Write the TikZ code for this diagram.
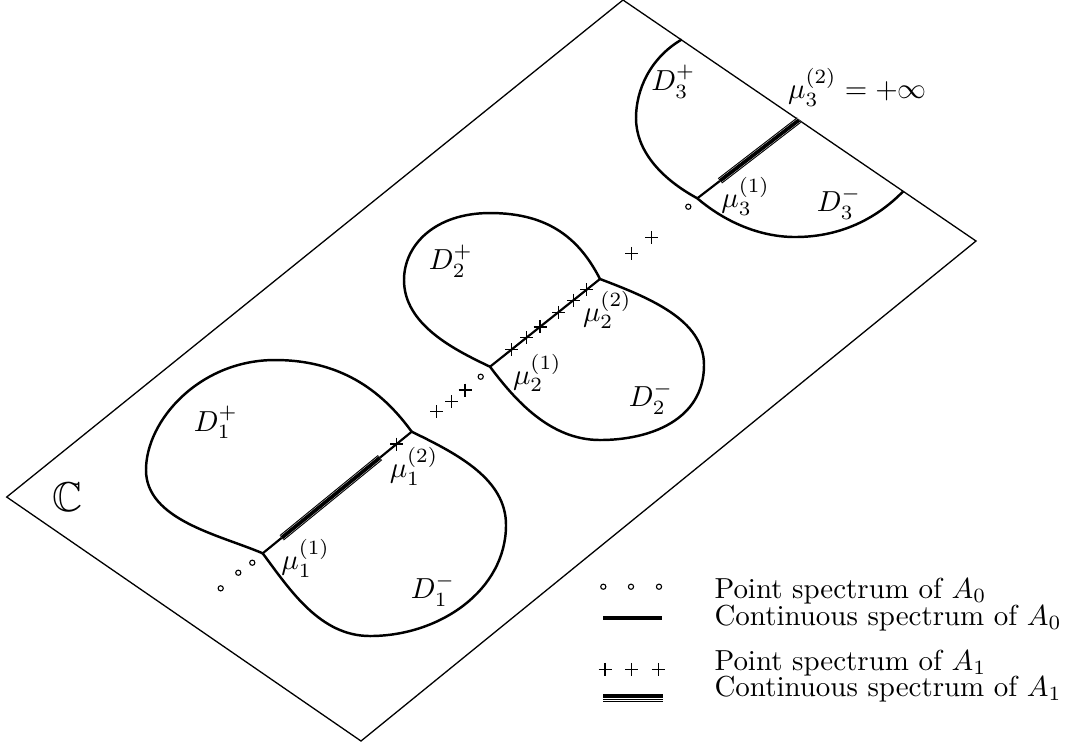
\documentclass[tikz,border=0pt]{standalone}
\usepackage{fontspec}
\usepackage{amssymb}
\begin{document}
\begin{tikzpicture}[x=0.3455pt,y=-0.3455pt,
  border/.style={line width=0.45pt},
  lobe/.style={line width=0.85pt, line join=round},
  contline/.style={line width=0.75pt},
  tripleline/.style={line width=2.3pt,
    postaction={draw,white,line width=1.55pt,
      postaction={draw,black,line width=1.3pt}}},
  legtriple/.style={line width=2.8pt,
    postaction={draw,white,line width=1.9pt,
      postaction={draw,black,line width=1.35pt,
        postaction={draw,white,line width=0.3pt}}}},
  plusmark/.style={line width=0.48pt},
  ptcirc/.style={line width=0.38pt},
  lbl/.style={inner sep=0pt, font=\normalsize},
  legtext/.style={inner sep=0pt, anchor=base west}]
\useasboundingbox (0,0) rectangle (1066,744);
\newcommand\mkplus[1]{\draw[plusmark] (#1) +(-6.5,0) -- +(6.5,0) (#1) +(0,-6.5) -- +(0,6.5);}
\newcommand\mkcirc[1]{\draw[ptcirc] (#1) circle[radius=2.6];}
% frame (parallelogram)
\coordinate (T) at (623,0);
\coordinate (R) at (976,241);
\coordinate (Bt) at (361,741);
\coordinate (L) at (6.7,497);
\draw[border] (T) -- (R) -- (Bt) -- (L) -- cycle;
% junction points
\coordinate (A1) at (262.7,553.3);
\coordinate (B1) at (411.7,431.7);
\coordinate (A2) at (490,366.7);
\coordinate (B2) at (600,279);
\coordinate (A3) at (697.3,198.3);
\coordinate (B3) at (799,120);
\coordinate (E3a) at (681.7,39.5);
\coordinate (E3b) at (903,191.5);
% lobe 1
\draw[lobe] (B1) .. controls (385,395) and (345,360) .. (275,360)
  .. controls (200,360) and (146,420) .. (146,470)
  .. controls (146,520) and (220,535) .. (A1);
\draw[lobe] (B1) .. controls (460,455) and (506,480) .. (506,525)
  .. controls (506,590) and (440,636) .. (370,636)
  .. controls (320,636) and (290,590) .. (A1);
% lobe 2
\draw[lobe] (B2) .. controls (580,240) and (550,213) .. (490,213)
  .. controls (435,213) and (404,245) .. (404,280)
  .. controls (404,325) and (455,350) .. (A2);
\draw[lobe] (B2) .. controls (650,298) and (704,320) .. (704,365)
  .. controls (704,420) and (650,440) .. (600,440)
  .. controls (550,440) and (515,400) .. (A2);
% lobe 3
\draw[lobe] (E3a) .. controls (650,58) and (636,90) .. (636,118)
  .. controls (636,150) and (660,178) .. (A3);
\draw[lobe] (A3) .. controls (725,222) and (760,237) .. (795,237)
  .. controls (845,237) and (880,215) .. (E3b);
% continuous spectra of A0
\draw[contline] (A1) -- (B1);
\draw[contline] (A2) -- (B2);
\draw[contline] (A3) -- (B3);
% continuous spectra of A1
\path (A1) -- (B1) coordinate[pos=0.1275] (s1a) coordinate[pos=0.787] (s1b);
\draw[tripleline] (s1a) -- (s1b);
\path (A3) -- (B3) coordinate[pos=0.223] (s3a);
\draw[tripleline] (s3a) -- (B3);
% point spectrum of A1 on lobe 2 segment
\path (A2) -- (B2) coordinate[pos=0.197] (q1) coordinate[pos=0.333] (q2)
  coordinate[pos=0.455] (q3) coordinate[pos=0.621] (q4)
  coordinate[pos=0.758] (q5) coordinate[pos=0.879] (q6);
\foreach \q in {q1,q2,q3,q4,q5,q6} {\mkplus{\q}}
\path (A1) -- (B1) coordinate[pos=0.899] (q0);
\mkplus{q0}
\coordinate (r1) at (436.7,411.7); \mkplus{r1}
\coordinate (r2) at (451.7,401.7); \mkplus{r2}
\coordinate (r3) at (465,390); \mkplus{r3}
\coordinate (r4) at (631.7,253.3); \mkplus{r4}
\coordinate (r5) at (651.7,237.3); \mkplus{r5}
% point spectrum of A0
\coordinate (c1) at (220.7,588.3); \mkcirc{c1}
\coordinate (c2) at (238.3,572.7); \mkcirc{c2}
\coordinate (c3) at (252.3,562.7); \mkcirc{c3}
\coordinate (c4) at (480.7,376.7); \mkcirc{c4}
\coordinate (c5) at (688.3,206.7); \mkcirc{c5}
% labels
\node[lbl] (d1p) at (215.8,422.5) {$D_1^+$};
\node[lbl] (m12) at (414,466.7) {$\mu_1^{(2)}$};
\node[lbl] (m11) at (305.7,558.3) {$\mu_1^{(1)}$};
\node[lbl] (d1m) at (433,590) {$D_1^-$};
\node[lbl] (d2p) at (450.8,261.3) {$D_2^+$};
\node[lbl] (m22) at (607.3,310) {$\mu_2^{(2)}$};
\node[lbl] (m21) at (537.3,373) {$\mu_2^{(1)}$};
\node[lbl] (d2m) at (651,398) {$D_2^-$};
\node[lbl] (d3p) at (673.3,81.7) {$D_3^+$};
\node[lbl] (m32) at (857.5,87.5) {$\mu_3^{(2)}=+\infty$};
\node[lbl] (m31) at (745.7,196.7) {$\mu_3^{(1)}$};
\node[lbl] (d3m) at (839,203) {$D_3^-$};
\node[lbl,font=\Large] (CC) at (67.5,497) {$\mathbb{C}$};
% legend
\coordinate (lc1) at (603.3,586.7); \mkcirc{lc1}
\coordinate (lc2) at (631,586.7); \mkcirc{lc2}
\coordinate (lc3) at (659,586.7); \mkcirc{lc3}
\node[legtext] (t1) at (714,598.3) {Point spectrum of $A_0$};
\coordinate (la0) at (603.3,618.3);
\coordinate (lb0) at (662,618.3);
\draw[line width=1.5pt] (la0) -- (lb0);
\node[legtext] (t2) at (714,625) {Continuous spectrum of $A_0$};
\coordinate (lp1) at (605,669.3); \mkplus{lp1}
\coordinate (lp2) at (631.7,669.3); \mkplus{lp2}
\coordinate (lp3) at (658.3,669.3); \mkplus{lp3}
\node[legtext] (t3) at (714,670) {Point spectrum of $A_1$};
\coordinate (la1) at (603.3,698.3);
\coordinate (lb1) at (663.3,698.3);
\draw[legtriple] (la1) -- (lb1);
\node[legtext] (t4) at (714,696) {Continuous spectrum of $A_1$};
\end{tikzpicture}
\end{document}
